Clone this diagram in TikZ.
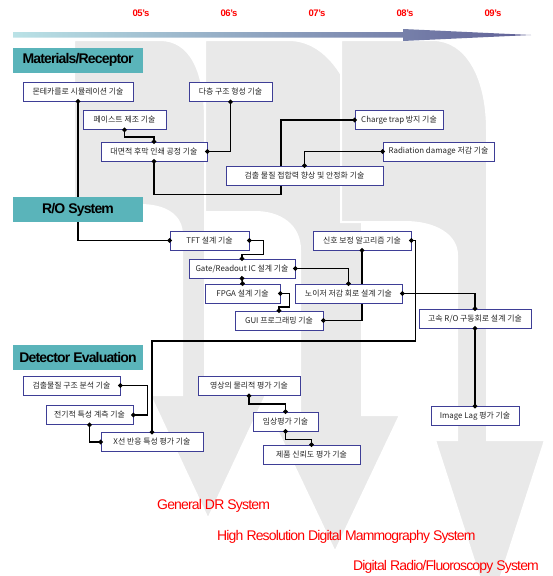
\documentclass[tikz,border=0pt]{standalone}
\usepackage{fontspec}
\setmainfont{Liberation Sans}
\newfontfamily\kr{Noto Sans CJK KR}
\usetikzlibrary{arrows.meta}
\definecolor{headteal}{RGB}{90,180,186}
\definecolor{boxblue}{RGB}{62,62,150}
\definecolor{bggrey}{RGB}{233,233,233}
\definecolor{yearred}{RGB}{255,0,0}
\definecolor{barleft}{RGB}{186,226,230}
\definecolor{barright}{RGB}{96,96,150}
\tikzset{
  tech/.style={draw=boxblue,fill=white,line width=0.8pt,inner sep=0pt,minimum height=19,minimum width=#1,text=black!85,font=\kr\fontsize{7.9}{9}\selectfont},
  sechead/.style={fill=headteal,inner sep=0pt,minimum width=130,minimum height=25,font=\bfseries\fontsize{14}{16}\selectfont\addfontfeatures{LetterSpace=-6}},
  link/.style={line width=1.5pt,{Circle[length=4.5pt]}-{Circle[length=4.5pt]},shorten <=-2.25pt,shorten >=-2.25pt},
  year/.style={text=yearred,font=\bfseries\fontsize{9.5}{11}\selectfont\addfontfeatures{LetterSpace=-4}},
  sysname/.style={text=yearred,anchor=west,inner sep=0pt,font=\fontsize{14}{16}\selectfont\addfontfeatures{LetterSpace=-6}},
  bgarrow/.style={fill=bggrey,draw=white,line width=2pt}
}

\begin{document}
\begin{tikzpicture}[x=1pt,y=-1pt]
    \useasboundingbox (0,0) rectangle (553,576);

    \fill[bgarrow] (74,40) -- (160,40) .. controls (190,40) and (205,70) .. (205,120) -- (205,395) -- (266,395) -- (208,519) -- (150,395) -- (182,395) -- (182,235) .. controls (182,215) and (165,205) .. (140,205) -- (74,205) -- cycle;
    \fill[bgarrow] (205,40) -- (289,40) .. controls (330,40) and (362,90) .. (362,160) -- (362,415) -- (400,415) -- (335,552) -- (270,415) -- (300,415) -- (300,250) .. controls (300,225) and (280,212) .. (255,212) -- (205,212) -- cycle;
    \fill[bgarrow] (341,40) -- (433,40) .. controls (465,40) and (487,75) .. (487,130) -- (487,440) -- (545,440) -- (490,610) -- (435,440) -- (457,440) -- (457,255) .. controls (457,235) and (435,222) .. (405,222) -- (341,222) -- cycle;

    \shade[left color=barleft,right color=barright] (13,32) -- (403,32) -- (403,29) -- (531,35) -- (403,41) -- (403,37.5) -- (13,37.5) -- cycle;

    \node [year] (y05) at (141,13) {05's};
    \node [year] (y06) at (229,13) {06's};
    \node [year] (y07) at (317,13) {07's};
    \node [year] (y08) at (405,13) {08's};
    \node [year] (y09) at (493,13) {09's};

    \node [sechead] (mat) at (78,60) {Materials/Receptor};

    \node [tech=110] (monte) at (78,91.5) {몬테카를로 시뮬레이션 기술};
    \node [tech=79] (tft) at (209.5,240.5) {TFT 설계 기술};
    \draw [link] (monte.south) |- (tft.west);
    \node [sechead] (ro) at (78,209.5) {R/O System};

    \node [tech=83] (multi) at (230.5,92) {다층 구조 형성 기술};
    \node [tech=83] (paste) at (124.5,120) {페이스트 제조 기술};
    \node [tech=106] (large) at (154,151.5) {대면적 후막 인쇄 공정 기술};
    \node [tech=88] (charge) at (399,120) {Charge trap 방지 기술};
    \node [tech=111] (rad) at (438.5,151.5) {Radiation damage 저감 기술};

    \draw [link] (large.south) -- ++(0,33) -- ++(127,0) |- (charge.west);
    \node [tech=157] (bond) at (304.5,175.5) {검출 물질 접합력 향상 및 안정화 기술};

    \node [tech=106] (gate) at (242,268.5) {Gate/Readout IC 설계 기술};
    \node [tech=75] (fpga) at (242.5,293.5) {FPGA 설계 기술};
    \node [tech=88] (gui) at (279,320.5) {GUI 프로그래밍 기술};
    \node [tech=98] (signal) at (362,240.5) {신호 보정 알고리즘 기술};
    \node [tech=112] (fast) at (475,318.5) {고속 R/O 구동회로 설계 기술};

    \draw [link] (signal.south) |- (gui.east);
    \node [tech=107] (noise) at (348.5,293.5) {노이저 저감 회로 설계 기술};

    \node [sechead] (det) at (78,357.5) {Detector Evaluation};

    \node [tech=97] (struct) at (71.5,385.5) {검출물질 구조 분석 기술};
    \node [tech=87] (elec) at (89.5,415) {전기적 특성 계측 기술};
    \node [tech=102] (xray) at (152,442) {X선 반응 특성 평가 기술};
    \node [tech=102] (phys) at (249,386) {영상의 물리적 평가 기술};
    \node [tech=65] (clin) at (285.5,421.5) {임상평가 기술};
    \node [tech=97] (rel) at (311.5,454.5) {제품 신뢰도 평가 기술};
    \node [tech=88] (lag) at (475,416) {Image Lag 평가 기술};

    \draw [link] (paste.south) -- ++(0,7) -| (large.north);
    \draw [link] (multi.south) |- (large.east);
    \draw [link] (rad.west) -| (bond.north);

    \draw [link] (tft.east) -- ++(14,0) -- ++(0,14) -| (gate.north);
    \draw [link] (gate.south) -- (fpga.north);
    \draw [link] (fpga.east) -- ++(9,0) -- ++(0,13.5) -| (gui.north);
    \draw [link] (gate.east) -| (noise.north);
    \draw [link] (signal.east) -- ++(4,0) -- ++(0,100.5) -| (xray.north);
    \draw [link] (noise.east) -| (fast.north);
    \draw [link] (fast.south) -- (lag.north);

    \draw [link] (struct.east) -- ++(27,0) |- (elec.east);
    \draw [link] (elec.south) |- (xray.west);
    \draw [link] (phys.south) -- ++(0,8) -| (clin.north);
    \draw [link] (clin.south) -- ++(0,8) -| (rel.north);

    \node [sysname] (gdr) at (157,506) {General DR System};
    \node [sysname] (mam) at (217,537) {High Resolution Digital Mammography System};
    \node [sysname] (drf) at (353,567) {Digital Radio/Fluoroscopy System};
\end{tikzpicture}
\end{document}
